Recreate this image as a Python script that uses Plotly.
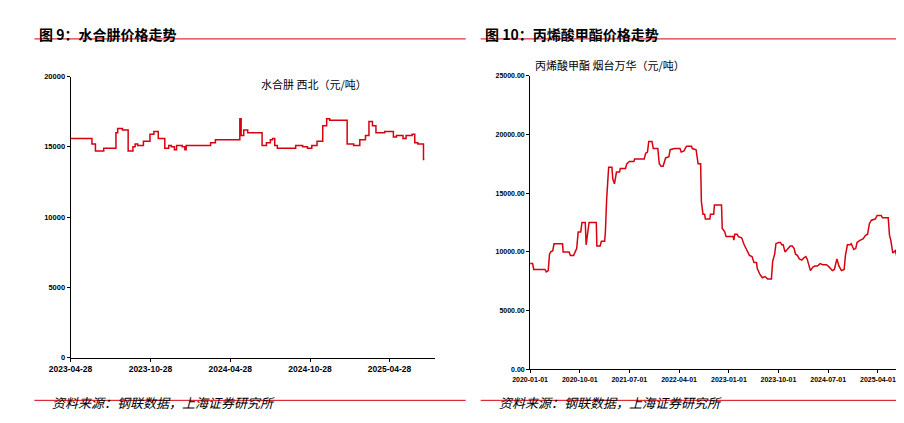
import pandas as pd
import plotly.graph_objects as go

# 水合肼 西北 (step series)
hyd_dates = ["2023-04-28", "2023-06-16", "2023-06-24", "2023-07-13", "2023-08-10", "2023-08-14",
             "2023-08-25", "2023-09-07", "2023-09-18", "2023-09-23", "2023-09-29", "2023-10-12",
             "2023-10-27", "2023-11-05", "2023-11-15", "2023-11-30", "2023-12-09", "2023-12-15",
             "2023-12-22", "2023-12-27", "2024-01-09", "2024-01-15", "2024-01-18", "2024-03-14",
             "2024-03-25", "2024-05-20", "2024-05-23", "2024-05-29", "2024-06-07", "2024-06-12",
             "2024-07-10", "2024-07-20", "2024-07-29", "2024-08-03", "2024-08-08", "2024-08-14",
             "2024-09-25", "2024-10-11", "2024-10-22", "2024-11-01", "2024-11-13", "2024-11-26",
             "2024-12-05", "2024-12-12", "2025-01-21", "2025-02-05", "2025-02-19", "2025-03-04",
             "2025-03-12", "2025-03-20", "2025-03-28", "2025-04-17", "2025-05-07", "2025-05-14",
             "2025-05-29", "2025-06-05", "2025-06-19", "2025-06-25", "2025-07-02", "2025-07-15",
             "2025-07-17"]
hyd_vals = [15600, 15200, 14700, 14900, 16000, 16300, 16200, 14700, 15000, 15200, 15100, 15400,
            15900, 16100, 15600, 14900, 15100, 15000, 14800, 15100, 15000, 14800, 15100, 15300,
            15500, 17000, 15800, 16200, 16000, 16000, 15100, 15300, 15500, 15600, 15100, 14900,
            15100, 15000, 14900, 15100, 15400, 16500, 17000, 16900, 15200, 15100, 15500, 15800,
            16800, 16500, 16000, 16100, 15700, 15800, 15600, 15800, 15900, 15300, 15200, 14100,
            14100]
hyd_ticks = ["2023-04-28", "2023-10-28", "2024-04-28", "2024-10-28", "2025-04-28"]

# 丙烯酸甲酯 烟台万华: days since 2020-01-01 and price
ma_days = [0, 14, 20, 82, 89, 100, 107, 114, 125, 132, 179, 182, 215, 222, 240, 250, 257, 265, 279,
           286, 304, 309, 318, 325, 365, 368, 386, 393, 411, 415, 422, 429, 433, 451, 456, 465, 476,
           493, 497, 526, 533, 547, 572, 576, 629, 637, 647, 654, 672, 679, 704, 712, 722, 733, 747,
           765, 772, 797, 826, 833, 848, 862, 890, 894, 915, 926, 940, 944, 953, 962, 966, 991, 994,
           1012, 1016, 1055, 1059, 1073, 1080, 1119, 1123, 1128, 1141, 1148, 1166, 1180, 1194, 1209,
           1223, 1234, 1248, 1252, 1266, 1280, 1295, 1309, 1330, 1337, 1348, 1355, 1370, 1380, 1387,
           1395, 1405, 1420, 1434, 1445, 1455, 1463, 1473, 1484, 1498, 1509, 1520, 1527, 1534, 1545,
           1559, 1570, 1584, 1598, 1613, 1634, 1649, 1666, 1677, 1691, 1702, 1716, 1731, 1738, 1749,
           1763, 1770, 1784, 1795, 1802, 1820, 1835, 1849, 1860, 1870, 1881, 1902, 1913, 1935, 1942,
           1974, 1981, 1988, 1999, 2006, 2013, 2020, 2028]
ma_vals = [9000, 9000, 8500, 8500, 8300, 8400, 9800, 10000, 10100, 10700, 10700, 10000, 10000, 9700,
           9700, 10100, 10300, 11700, 11700, 12500, 12500, 10600, 11500, 12500, 12500, 10500, 10500,
           10900, 10900, 11700, 14500, 16500, 17200, 17200, 16200, 15800, 16800, 16800, 17100, 17100,
           17500, 17700, 17700, 17900, 17900, 18400, 18500, 19400, 19400, 18800, 18800, 17500, 17300,
           17300, 18000, 18100, 18700, 18800, 18800, 18500, 18600, 19000, 19000, 18800, 18700, 17500,
           17500, 14300, 13200, 13200, 12800, 12800, 13200, 13200, 14000, 14000, 12000, 11700, 11300,
           11300, 11000, 11500, 11500, 11300, 11200, 10600, 10200, 9700, 9600, 9100, 9100, 8600, 8100,
           7800, 7900, 7700, 7700, 9200, 9800, 10700, 10800, 10800, 10600, 10600, 10000, 10300, 10500,
           10500, 10300, 9800, 9700, 9400, 9300, 9500, 9600, 9400, 9000, 8400, 8700, 8800, 8800, 9000,
           8900, 8900, 8700, 8400, 8500, 9400, 8800, 8400, 8500, 9700, 10600, 10600, 10700, 10200,
           10300, 10800, 11000, 11100, 11400, 11500, 12400, 12700, 12800, 13100, 13100, 12900, 12900,
           11400, 11000, 9900, 10000, 10100, 9700, 9000]
ma_ticks = ["2020-01-01", "2020-10-01", "2021-07-01", "2022-04-01", "2023-01-01",
            "2023-10-01", "2024-07-01", "2025-04-01"]

ma_dates = pd.Timestamp("2020-01-01") + pd.to_timedelta(ma_days, unit="D")

red = "#d7000f"
fig = go.Figure()
fig.add_trace(go.Scatter(x=hyd_dates, y=hyd_vals, mode="lines", line_shape="hv",
                         line=dict(color=red, width=1.5), xaxis="x", yaxis="y"))
fig.add_trace(go.Scatter(x=ma_dates, y=ma_vals, mode="lines",
                         line=dict(color=red, width=1.5), xaxis="x2", yaxis="y2"))

ax = dict(showgrid=False, zeroline=False, showline=True, linecolor="black", linewidth=1,
          ticks="outside", ticklen=3, tickcolor="black")
fig.update_layout(
    width=904, height=423, showlegend=False, plot_bgcolor="white", paper_bgcolor="white",
    margin=dict(l=0, r=0, t=0, b=0),
    font=dict(family="Noto Sans CJK SC, Arial", color="black"),
    xaxis=dict(ax, domain=[0.046, 0.459], type="date", range=["2023-04-28", "2025-08-10"],
               tickvals=hyd_ticks, ticktext=["<b>%s</b>" % t for t in hyd_ticks], anchor="y",
               tickfont=dict(size=8.5, family="Arial")),
    yaxis=dict(ax, domain=[0.165, 0.844], range=[0, 20000], tickvals=[0, 5000, 10000, 15000, 20000],
               ticktext=["<b>%d</b>" % v for v in [0, 5000, 10000, 15000, 20000]], anchor="x",
               tickfont=dict(size=7.5, family="Arial")),
    xaxis2=dict(ax, domain=[0.567, 0.985], type="date", range=["2020-01-01", "2025-07-25"],
                tickvals=ma_ticks, ticktext=["<b>%s</b>" % t for t in ma_ticks], anchor="y2",
                tickfont=dict(size=7, family="Arial")),
    yaxis2=dict(ax, domain=[0.137, 0.846], range=[0, 25000],
                tickvals=[0, 5000, 10000, 15000, 20000, 25000],
                ticktext=["<b>%.2f</b>" % v for v in [0, 5000, 10000, 15000, 20000, 25000]],
                anchor="x2", tickfont=dict(size=7, family="Arial")),
)

fig.add_annotation(text="水合肼 西北（元/吨）", x=0.26, y=0.85, xref="paper", yref="paper",
                   showarrow=False, font=dict(size=11))
fig.add_annotation(text="丙烯酸甲酯 烟台万华（元/吨）", x=0.745, y=0.895, xref="paper", yref="paper",
                   showarrow=False, font=dict(size=11))
for x0, x1, title in [(0.005, 0.494, "图 9：水合肼价格走势"), (0.511, 0.996, "图 10：丙烯酸甲酯价格走势")]:
    fig.add_annotation(text="<b>" + title + "</b>", x=x0 + 0.003, y=0.975, xref="paper", yref="paper",
                       xanchor="left", showarrow=False, font=dict(size=14))
    fig.add_annotation(text="<i>资料来源：钢联数据，上海证券研究所</i>", x=x0 + 0.018, y=0.03,
                       xref="paper", yref="paper", xanchor="left", showarrow=False,
                       font=dict(size=13))
    for yy in [0.935, 0.062]:
        fig.add_shape(type="line", x0=x0, x1=x1, y0=yy, y1=yy, xref="paper", yref="paper",
                      line=dict(color=red, width=1))

fig.write_html("out.html")
